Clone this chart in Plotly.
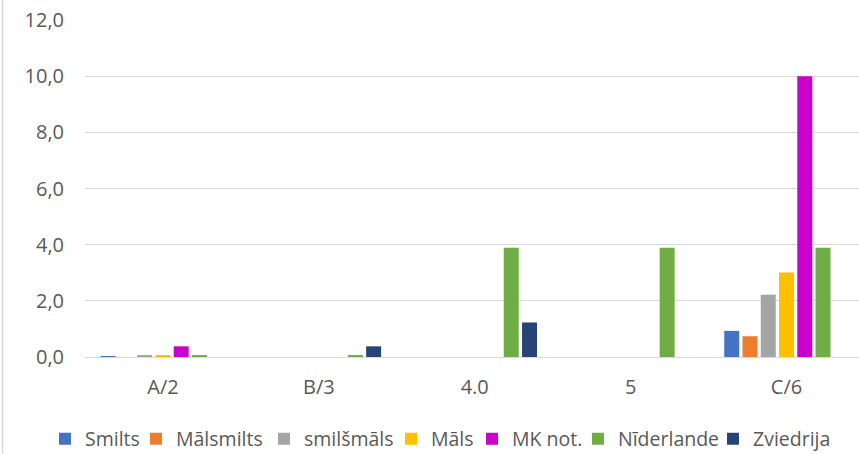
import plotly.graph_objects as go

categories = ["A/2", "B/3", "4.0", "5", "C/6"]
series_names = ["Smilts", "Mālsmilts", "smilšmāls", "Māls", "MK not.", "Nīderlande", "Zviedrija"]
smilts = [0.02, 0, 0, 0, 0.93]
malsmilts = [0, 0, 0, 0, 0.74]
smilsmals = [0.04, 0, 0, 0, 2.22]
mals = [0.06, 0, 0, 0, 3.01]
mk_not = [0.38, 0, 0, 0, 10.0]
niderlande = [0.07, 0.07, 3.89, 3.89, 3.89]
zviedrija = [0, 0.38, 1.23, 0, 0]
y_ticks = [0, 2, 4, 6, 8, 10, 12]

series_values = [smilts, malsmilts, smilsmals, mals, mk_not, niderlande, zviedrija]
colors = ["#4472C4", "#ED7D31", "#A5A5A5", "#FFC000", "#CC00CC", "#70AD47", "#264478"]
# approximate left edge (px) of each legend swatch
legend_x = [59, 150, 278, 405, 486, 592, 727]

FONT = "Open Sans, Liberation Sans, sans-serif"
TXT = "#595959"
W, H = 859, 454

fig = go.Figure()
legend_layout = {}
for i, (name, vals, col, lx) in enumerate(zip(series_names, series_values, colors, legend_x)):
    key = "legend" if i == 0 else f"legend{i + 1}"
    fig.add_trace(go.Bar(x=categories, y=vals, name=name, legend=key,
                         marker=dict(color=col, line=dict(width=0))))
    legend_layout[key] = dict(
        orientation="h", xref="container", yref="container",
        x=(lx - 14) / W, xanchor="left", y=1 - 439 / H, yanchor="middle",
        font=dict(family=FONT, size=19.5, color=TXT),
        itemwidth=30, bgcolor="rgba(0,0,0,0)", borderwidth=0,
    )

fig.update_layout(
    width=W, height=H,
    margin=dict(l=85, r=0, t=20, b=97),
    paper_bgcolor="white", plot_bgcolor="white",
    separators=",.",
    barmode="group", bargap=0.18, bargroupgap=0.18,
    font=dict(family=FONT, size=20, color=TXT),
    showlegend=True,
    xaxis=dict(type="category", range=[-0.5, 4.465], showgrid=False,
               showline=False, ticks="", ticklabelstandoff=16,
               tickfont=dict(family=FONT, size=20, color=TXT)),
    yaxis=dict(range=[0, 12], tickvals=y_ticks, tickformat=".1f",
               showgrid=True, gridcolor="#D9D9D9", gridwidth=1,
               zeroline=True, zerolinecolor="#D9D9D9", zerolinewidth=1,
               showline=False, ticks="", ticklabelstandoff=20,
               tickfont=dict(family=FONT, size=20, color=TXT)),
    shapes=[dict(type="line", xref="paper", yref="paper",
                 x0=-82.5 / 774, x1=-82.5 / 774, y0=-97 / 337, y1=1 + 20 / 337,
                 line=dict(color="#D9D9D9", width=1.5))],
    **legend_layout,
)

fig.write_html("out.html",
               config={"displayModeBar": False},
               post_script="document.body.style.margin='0';document.body.style.overflow='hidden';")
